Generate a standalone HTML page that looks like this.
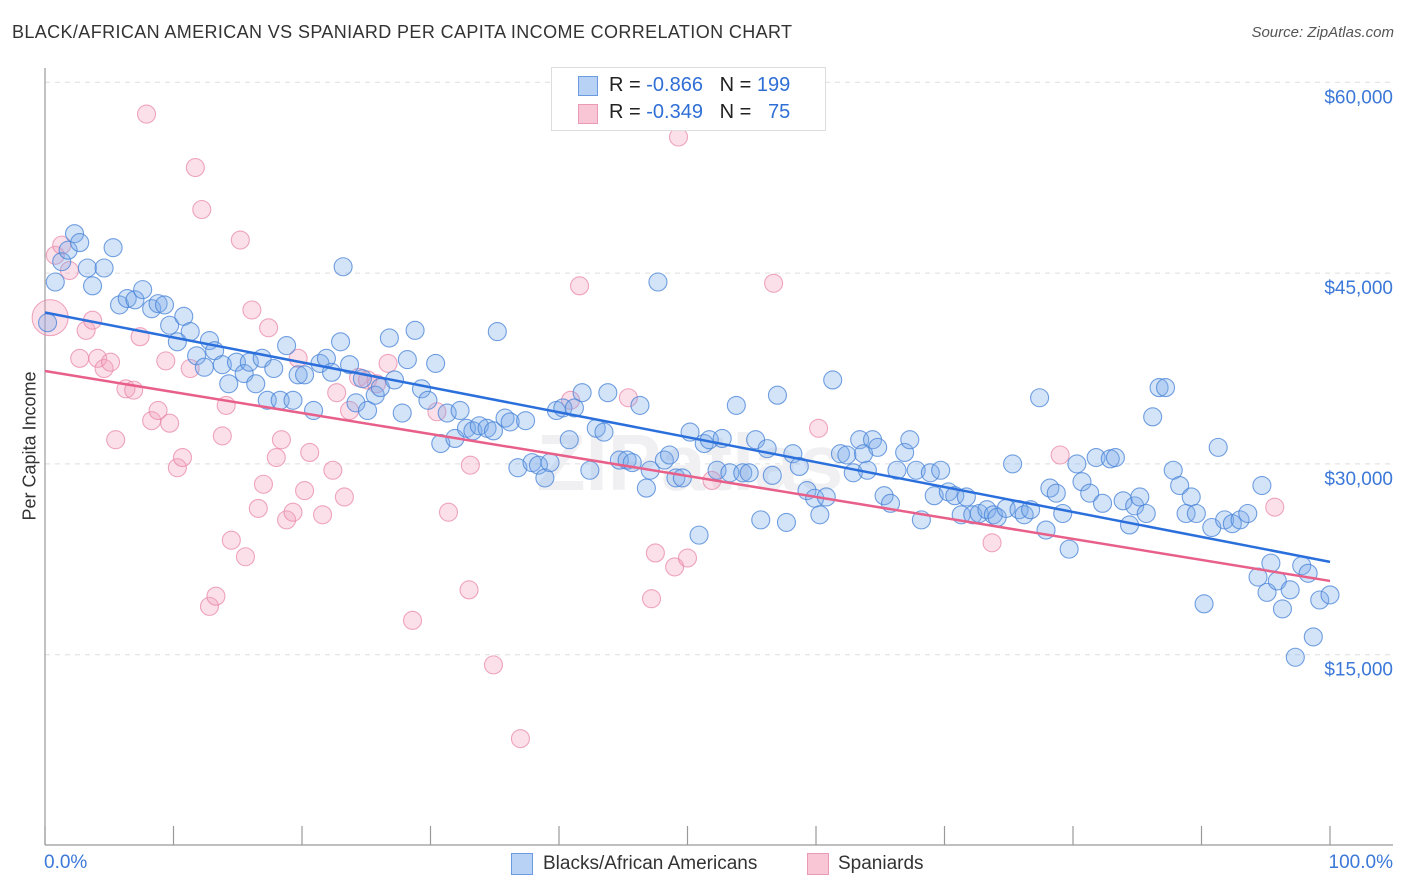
<!DOCTYPE html>
<html><head><meta charset="utf-8">
<style>
body{margin:0;background:#fff;font-family:"Liberation Sans",sans-serif;}
#wrap{position:relative;width:1406px;height:892px;overflow:hidden;}
.t{position:absolute;white-space:nowrap;}
</style></head>
<body>
<div id="wrap">
<div class="t" style="left:12px;top:22px;font-size:18px;color:#333;letter-spacing:0.38px">BLACK/AFRICAN AMERICAN VS SPANIARD PER CAPITA INCOME CORRELATION CHART</div>
<div class="t" style="right:12px;top:24px;font-size:15px;color:#555;font-style:italic">Source: ZipAtlas.com</div>
<svg id="svg" width="1406" height="892" style="position:absolute;left:0;top:0"></svg>
</div>
<script>
const NS="http://www.w3.org/2000/svg";
const blueX=[0.2,0.8,1.3,1.8,2.3,2.7,3.3,3.7,4.6,5.3,5.8,6.4,7.0,7.6,8.3,8.8,9.3,9.7,10.3,10.8,11.3,11.8,12.4,12.8,13.2,13.8,14.3,14.9,15.5,15.9,16.4,16.9,17.3,17.8,18.3,18.8,19.3,19.7,20.2,20.9,21.4,21.9,22.3,23.0,23.2,23.7,24.2,24.7,25.1,25.7,26.1,26.8,27.2,27.8,28.2,28.8,29.3,29.8,30.4,30.8,31.3,31.9,32.3,32.8,33.3,33.8,34.4,34.9,35.2,35.8,36.2,36.8,37.4,37.9,38.4,38.9,39.3,39.8,40.3,40.8,41.2,41.8,42.4,42.9,43.5,43.8,44.7,45.3,45.7,46.3,46.8,47.1,47.7,48.2,48.6,49.1,49.6,50.2,50.9,51.3,51.7,52.3,52.7,53.3,53.8,54.3,54.8,55.3,55.7,56.2,56.6,57.0,57.7,58.2,58.7,59.3,59.9,60.3,60.8,61.3,61.9,62.4,62.9,63.4,63.7,64.0,64.4,64.8,65.3,65.8,66.3,66.9,67.3,67.8,68.2,68.9,69.2,69.7,70.3,70.8,71.3,71.7,72.2,72.7,73.3,73.8,74.1,74.8,75.3,75.8,76.2,76.7,77.4,77.9,78.2,78.7,79.2,79.7,80.3,80.7,81.3,81.8,82.3,82.9,83.3,83.9,84.4,84.8,85.2,85.7,86.2,86.7,87.2,87.8,88.3,88.8,89.2,89.6,90.2,90.8,91.3,91.8,92.4,93.0,93.6,94.7,95.4,94.4,95.1,95.9,96.3,96.9,97.3,97.8,98.3,98.7,99.2,100];
const blueY=[41.1,44.3,45.9,46.8,48.1,47.4,45.4,44.0,45.4,47.0,42.5,43.0,42.9,43.7,42.2,42.6,42.5,40.9,39.6,41.6,40.4,38.5,37.6,39.7,38.9,37.8,36.3,38.0,37.1,38.0,36.3,38.3,35.0,37.5,35.0,39.3,35.0,37.0,37.0,34.2,37.9,38.3,37.2,39.6,45.5,37.8,34.8,36.7,34.2,35.4,36.0,39.9,36.6,34.0,38.2,40.5,35.9,35.0,37.9,31.6,34.0,32.0,34.2,32.8,32.6,33.0,32.8,32.6,40.4,33.6,33.3,29.7,33.4,30.1,29.9,28.9,30.1,34.2,34.4,31.9,34.4,35.6,29.5,32.8,32.5,35.6,30.3,30.3,30.1,34.6,28.1,29.5,44.3,30.3,30.7,28.9,28.9,32.5,24.4,31.6,31.9,29.5,32.0,29.3,34.6,29.3,29.3,31.9,25.6,31.2,29.1,35.4,25.4,30.8,29.8,27.9,27.3,26.0,27.4,36.6,30.8,30.7,29.3,31.9,30.8,29.5,31.9,31.3,27.5,26.9,29.5,30.9,31.9,29.5,25.6,29.3,27.5,29.5,27.8,27.5,26.0,27.4,26.0,26.1,26.4,26.0,25.8,26.5,30.0,26.4,26.0,26.4,35.2,24.8,28.1,27.7,26.1,23.3,30.0,28.6,27.7,30.5,26.9,30.4,30.5,27.1,25.2,26.7,27.4,26.1,33.7,36.0,36.0,29.5,28.3,26.1,27.4,26.1,19.0,25.0,31.3,25.6,25.3,25.6,26.1,28.3,22.2,21.1,19.9,20.8,18.6,20.1,14.8,22.0,21.4,16.4,19.3,19.7];
const pinkX=[0.4,0.8,1.3,1.9,2.7,3.2,3.7,4.1,4.6,5.1,5.5,6.3,6.9,7.4,7.9,8.3,8.8,9.4,9.7,10.3,10.7,11.3,11.7,12.2,12.8,13.3,13.8,14.1,14.5,15.2,15.6,16.1,16.6,17.0,17.4,18.0,18.4,18.8,19.3,19.7,20.2,20.6,21.6,22.4,22.7,23.3,23.7,24.4,25.1,25.8,26.7,28.6,30.5,31.4,33.1,33.0,34.9,37.0,40.9,41.6,45.4,47.2,47.5,49.0,49.3,50.0,51.9,56.7,60.2,73.7,79.0,95.7];
const pinkY=[41.5,46.4,47.2,45.2,38.3,40.5,41.3,38.3,37.5,38.0,31.9,35.9,35.8,40.0,57.5,33.4,34.2,38.1,33.2,29.7,30.5,37.5,53.3,50.0,18.8,19.6,32.2,34.6,24.0,47.6,22.7,42.1,26.5,28.4,40.7,30.5,31.9,25.6,26.2,38.3,27.9,30.9,26.0,29.5,35.6,27.4,34.2,36.8,36.6,36.3,37.9,17.7,34.1,26.2,29.9,20.1,14.2,8.4,35.0,44.0,35.2,19.4,23.0,21.9,55.7,22.6,28.7,44.2,32.8,23.8,30.7,26.6];
const blueTrend=[41.9,22.3];
const pinkTrend=[37.3,20.8];
const yTicks=[15000,30000,45000,60000];
const yTickLabels=["$15,000","$30,000","$45,000","$60,000"];
const xTicks=[0,10,20,30,40,50,60,70,80,90,100];

const X0=45,X1=1330;
const sx=v=>X0+(X1-X0)*v/100;
const sy=k=>845.5-k*12.72;
const svg=document.getElementById('svg');
function mk(tag,attrs,parent){const e=document.createElementNS(NS,tag);for(const k in attrs)e.setAttribute(k,attrs[k]);(parent||svg).appendChild(e);return e;}

yTicks.forEach((t,i)=>{
  const y=sy(t/1000);
  const g=mk('line',{x1:45,x2:1393,y1:y,y2:y,stroke:'#ddd','stroke-dasharray':'5,5','stroke-width':1});
  
  
  const tx=mk('text',{x:1393,y:y+21,'text-anchor':'end','font-size':19,fill:'#3b78d8','font-family':'Liberation Sans, sans-serif'});
  tx.textContent=yTickLabels[i];
  
  
});
mk('line',{x1:45,x2:45,y1:68,y2:845,stroke:'#999','stroke-width':1.2});
mk('line',{x1:45,x2:1393,y1:845,y2:845,stroke:'#999','stroke-width':1.2});
xTicks.forEach(t=>{
  const x=sx(t);
  const l=mk('line',{x1:x,x2:x,y1:826,y2:845,stroke:'#999','stroke-width':1.2});
  
  
});
const wm=mk('text',{x:690,y:490,'text-anchor':'middle','font-size':80,fill:'#f0f0f3','font-weight':'bold','font-family':'Liberation Sans, sans-serif'});
wm.textContent='ZIPatlas';



pinkX.forEach((v,i)=>{
  const c=mk('circle',{cx:sx(v),cy:sy(pinkY[i]),r:i===0?18:9,fill:'rgba(244,160,188,0.33)',stroke:'rgba(232,130,165,0.7)','stroke-width':1.1});
  
  
});
blueX.forEach((v,i)=>{
  const c=mk('circle',{cx:sx(v),cy:sy(blueY[i]),r:9,fill:'rgba(120,170,235,0.33)',stroke:'rgba(70,130,215,0.75)','stroke-width':1.1});
  
  
});
const bl=mk('line',{x1:sx(0),y1:sy(blueTrend[0]),x2:sx(100),y2:sy(blueTrend[1]),stroke:'#2a6fdb','stroke-width':2.5});


const pl=mk('line',{x1:sx(0),y1:sy(pinkTrend[0]),x2:sx(100),y2:sy(pinkTrend[1]),stroke:'#e8608a','stroke-width':2.5});


</script>
<div class="t" style="left:551px;top:67px;width:273px;height:62px;border:1px solid #ddd;background:#fff">
  <div style="position:absolute;left:26px;top:8px;width:18px;height:18px;background:#b8d2f5;border:1px solid #6a9be0"></div>
  <div class="t" style="left:57px;top:6px;font-size:20px;color:#222">R = <span style="color:#2f6fd6">-0.866</span>&nbsp;&nbsp;&nbsp;N = <span style="color:#2f6fd6">199</span></div>
  <div style="position:absolute;left:26px;top:36px;width:18px;height:18px;background:#f8c6d5;border:1px solid #eb9ab5"></div>
  <div class="t" style="left:57px;top:33px;font-size:20px;color:#222">R = <span style="color:#2f6fd6">-0.349</span>&nbsp;&nbsp;&nbsp;N = &nbsp;&nbsp;<span style="color:#2f6fd6">75</span></div>
</div>
<div class="t" style="left:44px;top:852px;font-size:19px;color:#3b78d8">0.0%</div>
<div class="t" style="right:13px;top:852px;font-size:19px;color:#3b78d8">100.0%</div>
<div class="t" style="left:-35px;top:445px;font-size:18px;color:#333;transform:rotate(-90deg);transform-origin:center;width:130px;text-align:center">Per Capita Income</div>
<div class="t" style="left:511px;top:853px;width:20px;height:20px;background:#b8d2f5;border:1px solid #6a9be0"></div>
<div class="t" style="left:543px;top:853px;font-size:19px;color:#333">Blacks/African Americans</div>
<div class="t" style="left:807px;top:853px;width:20px;height:20px;background:#f8c6d5;border:1px solid #eb9ab5"></div>
<div class="t" style="left:838px;top:853px;font-size:19px;color:#333">Spaniards</div>
</body></html>
